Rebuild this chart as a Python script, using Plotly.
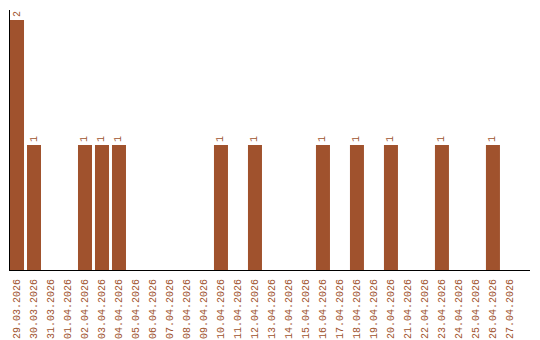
import plotly.graph_objects as go

dates = ["29.03.2026", "30.03.2026", "31.03.2026"] + [f"{d:02d}.04.2026" for d in range(1, 28)]
counts = [2, 1, 0, 0, 1, 1, 1, 0, 0, 0, 0, 0, 1, 0, 1, 0, 0, 0, 1, 0, 1, 0, 1, 0, 0, 1, 0, 0, 1, 0]
labels = [str(c) if c > 0 else "" for c in counts]

color = "#A0522D"
font = "Liberation Mono"
fig = go.Figure(go.Bar(
    x=dates, y=counts, marker_color=color, marker_line_width=0,
    text=labels, textposition="outside", textangle=-90,
    textfont=dict(family=font, size=10, color=color),
    cliponaxis=False,
))
fig.update_layout(
    width=540, height=340, margin=dict(l=10, r=10, t=10, b=70, autoexpand=False),
    plot_bgcolor="white", paper_bgcolor="white", showlegend=False,
    bargap=0.176,
    xaxis=dict(type="category", range=[-0.412, 30.18], showline=True, linecolor="black", linewidth=1,
               showgrid=False, ticks="", tickangle=-90, automargin=False, ticklabelstandoff=4,
               tickfont=dict(family=font, size=10, color=color)),
    yaxis=dict(range=[0, 2.08], showline=True, linecolor="black", linewidth=1, automargin=False,
               showgrid=False, showticklabels=False, ticks="", zeroline=False),
)
fig.write_html("out.html")
